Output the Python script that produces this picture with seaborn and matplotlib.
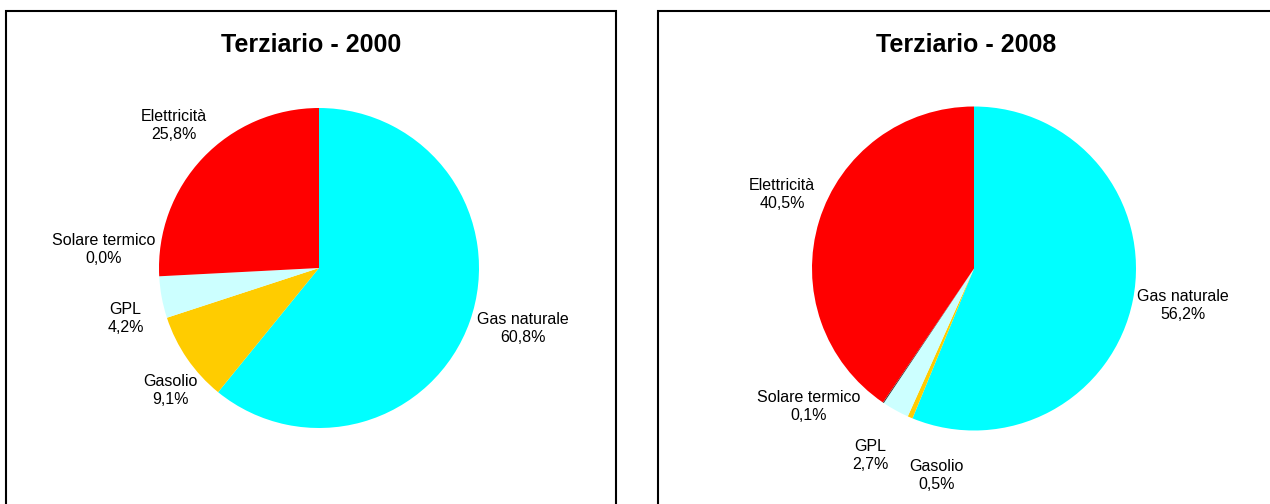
import numpy as np
import matplotlib
matplotlib.use("Agg")
import matplotlib.pyplot as plt
import seaborn as sns
from matplotlib.patches import Rectangle

sns.set_theme(style="white")
plt.rcParams['font.family'] = ['Liberation Sans', 'DejaVu Sans']
plt.rcParams['text.color'] = 'black'

# Dati
categorie = ["Gas naturale", "Gasolio", "GPL", "Solare termico", "Elettricità"]
valori_2000 = [60.8, 9.1, 4.2, 0.0, 25.8]
valori_2008 = [56.2, 0.5, 2.7, 0.1, 40.5]
titoli = ["Terziario - 2000", "Terziario - 2008"]
colori = ["#00FFFF", "#FFCC00", "#CCFFFF", "#333333", "#FF0000"]

# posizione etichette: (angolo extra in gradi, distanza in raggi)
spost_2000 = [(3, 1.33), (5, 1.20), (4, 1.25), (-8, 1.35), (-1, 1.27)]
spost_2008 = [(1, 1.31), (13, 1.30), (0, 1.32), (-16, 1.33), (-4, 1.27)]

W, H = 1270, 504
fig = plt.figure(figsize=(W / 100, H / 100), dpi=100)

# Cornici dei due grafici
fig.add_artist(Rectangle((6 / W, -0.1), 610 / W, 1.1 - 11 / H, transform=fig.transFigure,
                         fill=False, edgecolor="black", linewidth=1.5))
fig.add_artist(Rectangle((658 / W, -0.1), 700 / W, 1.1 - 11 / H, transform=fig.transFigure,
                         fill=False, edgecolor="black", linewidth=1.5))


def disegna_torta(cx, cy, r, valori, titolo, spost, tx):
    S = 480
    ax = fig.add_axes([(cx - S / 2) / W, (H - cy - S / 2) / H, S / W, S / H])
    L = S / 2 / r
    wedges, _ = ax.pie(valori, colors=colori, startangle=90, counterclock=False,
                       wedgeprops=dict(linewidth=0))
    ax.set_xlim(-L, L)
    ax.set_ylim(-L, L)
    ax.set_aspect("equal")
    ax.axis("off")
    for w, nome, v, (da, d) in zip(wedges, categorie, valori, spost):
        ang = np.deg2rad((w.theta1 + w.theta2) / 2 + da)
        testo = f"{nome}\n{v:.1f}%".replace(".", ",")
        ax.text(d * np.cos(ang), d * np.sin(ang), testo, ha="center", va="center",
                fontsize=11.5, linespacing=1.25, color="black", clip_on=False)
    fig.text(tx / W, 1 - 45 / H, titolo, ha="center", va="center",
             fontsize=18, fontweight="bold", color="black")


disegna_torta(319, 268, 160, valori_2000, titoli[0], spost_2000, 311)
disegna_torta(974, 268.5, 162, valori_2008, titoli[1], spost_2008, 966)

fig.savefig("out.png", dpi=100)
